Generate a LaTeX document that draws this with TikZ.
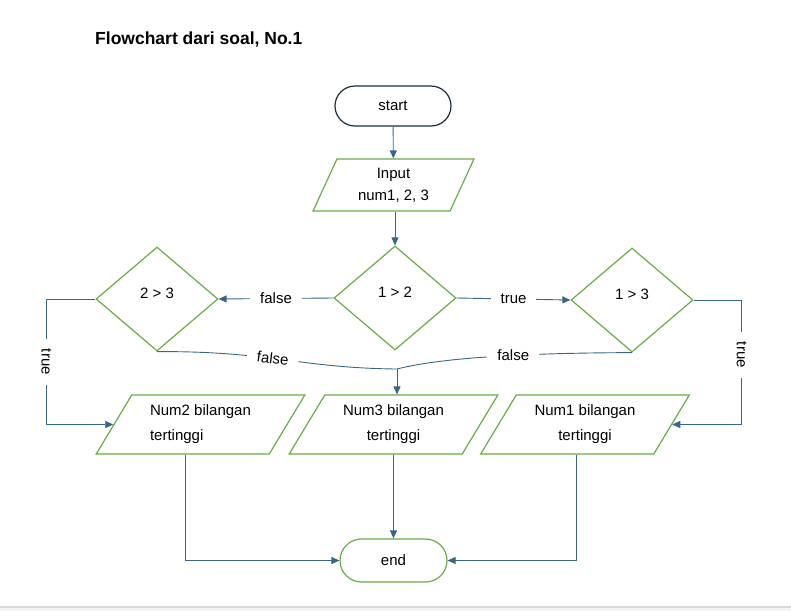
\documentclass[tikz,border=0pt]{standalone}
\usepackage{fontspec}
\setmainfont{Liberation Sans}
\usetikzlibrary{shapes.geometric,arrows.meta,calc}
\definecolor{fgreen}{RGB}{106,172,70}
\definecolor{fline}{RGB}{55,105,135}
\definecolor{fdark}{RGB}{25,45,60}
\begin{document}
\begin{tikzpicture}[x=1pt,y=-1pt,
  every node/.style={font=\fontsize{15}{22}\selectfont},
  term/.style={rectangle,draw=fgreen,line width=1.2pt,inner sep=0},
  para/.style={trapezium,trapezium stretches=true,draw=fgreen,line width=1.2pt,inner sep=1pt,align=center},
  decis/.style={diamond,draw=fgreen,line width=1.2pt,inner sep=0,minimum width=122pt,minimum height=104pt},
  conn/.style={draw=fline,line width=0.9pt},
  arr/.style={conn,-{Triangle[length=8pt,width=7pt]}},
  lbl/.style={fill=white,inner xsep=10pt,inner ysep=2pt}]
\useasboundingbox (0,0) rectangle (791,611);
\fill[white] (0,0) rectangle (791,611);
\fill[black!4] (0,607) rectangle (791,611);
\draw[black!15,line width=1.2pt] (0,607) -- (791,607);

\node[anchor=base west,inner sep=0,font=\fontsize{17.5}{20}\selectfont\bfseries] (title) at (95,44) {Flowchart dari soal, No.1};

\node[term,draw=fdark,minimum width=116pt,minimum height=40pt,rounded corners=20pt] (start) at (393,106) {start};
\node[para,trapezium left angle=67,trapezium right angle=113,minimum width=161pt,minimum height=52pt] (input) at (393.5,185) {Input\\num1, 2, 3};

\node[decis] (d12) at (395,298) {};
\node[decis] (d23) at (157,299) {};
\node[decis] (d13) at (632,300) {};
\node (t12) at ($(d12.center)+(0,-6)$) {1 > 2};
\node (t23) at ($(d23.center)+(0,-6)$) {2 > 3};
\node (t13) at ($(d13.center)+(0,-6)$) {1 > 3};

\begin{scope}[every node/.append style={font=\fontsize{15}{25}\selectfont}]
\node[para,align=left,trapezium left angle=57,trapezium right angle=123,minimum width=209pt,minimum height=59pt] (n2) at (200.5,424.5) {Num2 bilangan\\tertinggi};
\node[para,trapezium left angle=57,trapezium right angle=123,minimum width=209pt,minimum height=59pt] (n3) at (393.5,424.5) {Num3 bilangan\\tertinggi};
\node[para,trapezium left angle=57,trapezium right angle=123,minimum width=209pt,minimum height=59pt] (n1) at (585,424.5) {Num1 bilangan\\tertinggi};
\end{scope}

\node[term,minimum width=107pt,minimum height=43pt,rounded corners=21.5pt] (end) at (393.5,560.5) {end};

\coordinate (j) at (397,369);

% connectors
\draw[arr] (start) -- (input);
\draw[arr] (d12.north |- input.south) -- (d12.north);
\draw[arr] (d12.west) -- node[lbl] {false} (d23.east);
\draw[arr] (d12.east) -- node[lbl] {true} (d13.west);
\draw[arr] (d23.west) -- ++(-49,0) |- node[lbl,rotate=-90,pos=0.25] {true} (n2.west);
\draw[arr] (d13.east) -- ++(48,0) |- node[lbl,rotate=-90,pos=0.22] {true} (n1.east);
\draw[conn] (d23.south) .. controls (270,351) and (300,368) .. node[lbl,sloped,pos=0.45] {false} (j);
\draw[conn] (d13.south) .. controls (520,353) and (440,358) .. node[lbl,pos=0.4] {false} (j);
\draw[arr] (j) -- (j |- n3.north);
\draw[arr] ([xshift=-15pt]n2.south) |- (end.west);
\draw[arr] (n3.south) -- (end.north);
\draw[arr] ([xshift=-9pt]n1.south) |- (end.east);
\end{tikzpicture}
\end{document}
